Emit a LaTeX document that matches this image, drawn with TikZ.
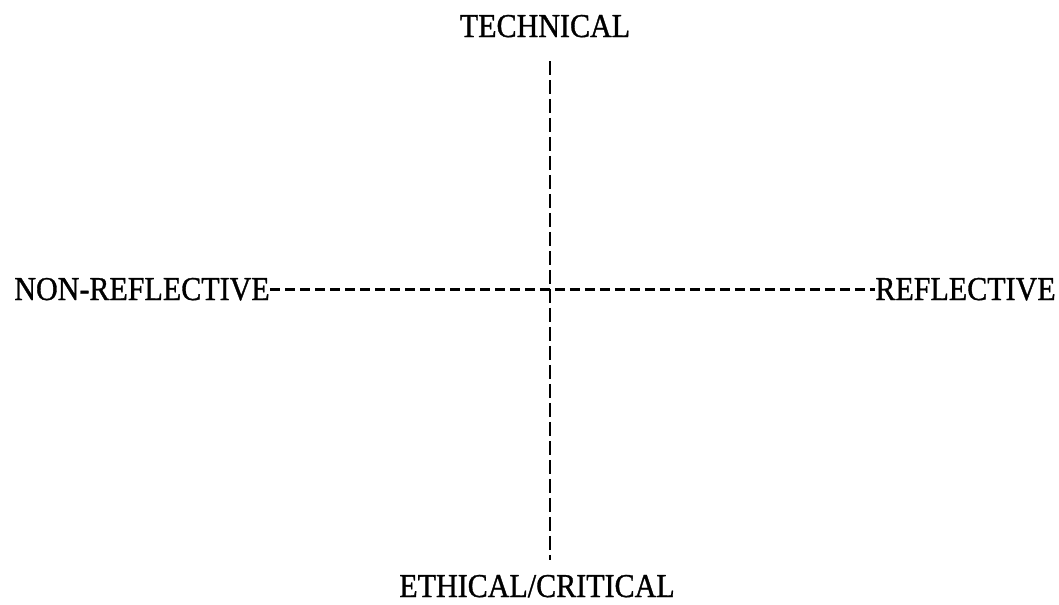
\documentclass[tikz,border=0pt]{standalone}
\usepackage{fontspec}
\setmainfont{Liberation Serif}[FakeStretch=0.9, FakeBold=1]
\begin{document}
\begin{tikzpicture}[x=0.02cm, y=-0.02cm, line join=round, font=\fontsize{19}{22}\selectfont,
		axislabel/.style={inner sep=0pt, text=black},
		axisline/.style={line width=1.6pt},
		vdash/.style={axisline, dash pattern=on 0.28cm off 0.1cm},
		hdash/.style={axisline, dash pattern=on 0.2cm off 0.1cm}]
			\useasboundingbox (0,0) rectangle (1059,605);
			\node[axislabel, anchor=base] (tech) at (545,37) {TECHNICAL};
			\node[axislabel, anchor=base] (eth) at (537,597) {ETHICAL/CRITICAL};
			\node[axislabel, anchor=base west] (nonref) at (14,300) {NON-REFLECTIVE};
			\node[axislabel, anchor=base east] (ref) at (1056,300) {REFLECTIVE};
			\coordinate (vtop) at (550,61);
			\coordinate (vbot) at (550,560);
			\draw[vdash] (vtop)--(vbot);
			\draw[hdash] (nonref.east)--(ref.west);
		\end{tikzpicture}
\end{document}
